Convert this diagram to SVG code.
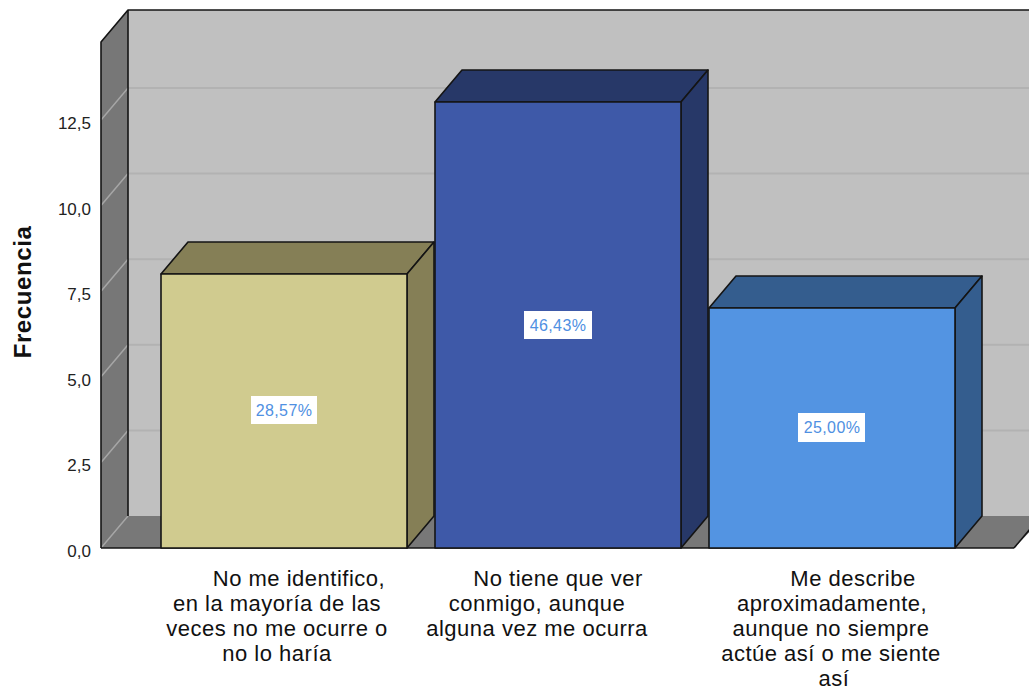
<svg xmlns="http://www.w3.org/2000/svg" width="1029" height="689" viewBox="0 0 1029 689">
<style>
.edge{stroke:#141414;stroke-width:1.6;stroke-linejoin:round}
.grid{stroke:#b2b2b2;stroke-width:2;fill:none}
.sgrid{stroke:#a6a6a6;stroke-width:1.5;fill:none}
.tick{font-family:"Liberation Sans",Arial,sans-serif;font-size:17px;fill:#222;text-anchor:end}
.cat{font-family:"Liberation Sans",Arial,sans-serif;font-size:22px;letter-spacing:0.5px;fill:#111;text-anchor:middle}
.pct{font-family:"Liberation Sans",Arial,sans-serif;font-size:16px;letter-spacing:0.4px;fill:#4f90e2;text-anchor:middle}
.box{fill:#ffffff}
</style>
<rect width="1029" height="689" fill="#ffffff"/>
<g id="frame">
  <!-- back wall -->
  <rect x="128" y="10" width="910" height="507" fill="#c0c0c0"/>
  <!-- left wall -->
  <polygon points="101,42 128,10 128,516 101,548" fill="#777777"/>
  <!-- floor -->
  <polygon points="101,548 128,516 1045,516 1014,548" fill="#787878"/>
  <!-- grid on back wall -->
  <g class="grid">
    <line x1="128" y1="430.4" x2="1029" y2="430.4"/>
    <line x1="128" y1="344.8" x2="1029" y2="344.8"/>
    <line x1="128" y1="259.2" x2="1029" y2="259.2"/>
    <line x1="128" y1="173.6" x2="1029" y2="173.6"/>
    <line x1="128" y1="88" x2="1029" y2="88"/>
  </g>
  <!-- grid on side wall -->
  <g class="sgrid">
    <line x1="101" y1="548" x2="128" y2="516"/>
    <line x1="101" y1="462.4" x2="128" y2="430.4"/>
    <line x1="101" y1="376.8" x2="128" y2="344.8"/>
    <line x1="101" y1="291.2" x2="128" y2="259.2"/>
    <line x1="101" y1="205.6" x2="128" y2="173.6"/>
    <line x1="101" y1="120" x2="128" y2="88"/>
  </g>
  <g class="edge" fill="none">
    <polyline points="101,548 101,42 128,10 1029,10"/>
    <line x1="128" y1="10" x2="128" y2="516"/>
    <line x1="101" y1="548" x2="1014" y2="548"/>
    <line x1="1014" y1="548" x2="1041" y2="516"/>
  </g>
</g>
<g id="axis-labels">
  <text class="tick" x="91" y="557">0,0</text>
  <text class="tick" x="91" y="471">2,5</text>
  <text class="tick" x="91" y="386">5,0</text>
  <text class="tick" x="91" y="300">7,5</text>
  <text class="tick" x="91" y="215">10,0</text>
  <text class="tick" x="91" y="129">12,5</text>
  <text x="31" y="292" transform="rotate(-90 31 292)" font-family="Liberation Sans, Arial, sans-serif" font-weight="bold" font-size="24" letter-spacing="0.6" fill="#111" text-anchor="middle">Frecuencia</text>
</g>
<g id="bar1">
  <polygon class="edge" points="161,274 188,242 434,242 407,274" fill="#857f56"/>
  <polygon class="edge" points="407,274 434,242 434,516 407,548" fill="#857f56"/>
  <rect class="edge" x="161" y="274" width="246" height="274" fill="#d0cb8f"/>
  <rect class="box" x="251" y="396" width="66" height="28"/>
  <text class="pct" x="284" y="416">28,57%</text>
</g>
<g id="bar2">
  <polygon class="edge" points="435,102 462,70 708,70 681,102" fill="#273868"/>
  <polygon class="edge" points="681,102 708,70 708,516 681,548" fill="#273868"/>
  <rect class="edge" x="435" y="102" width="246" height="446" fill="#3e59a8"/>
  <rect class="box" x="524" y="311" width="68" height="28"/>
  <text class="pct" x="558" y="331">46,43%</text>
</g>
<g id="bar3">
  <polygon class="edge" points="709,308 736,276 982,276 955,308" fill="#345d8e"/>
  <polygon class="edge" points="955,308 982,276 982,516 955,548" fill="#345d8e"/>
  <rect class="edge" x="709" y="308" width="246" height="240" fill="#5394e2"/>
  <rect class="box" x="798" y="413" width="67" height="29"/>
  <text class="pct" x="832" y="433">25,00%</text>
</g>
<g id="connectors"></g>
<g id="category-labels">
  <text class="cat"><tspan x="299" y="586">No me identifico,</tspan><tspan x="277" y="611">en la mayoría de las</tspan><tspan x="277" y="636">veces no me ocurre o</tspan><tspan x="277" y="661">no lo haría</tspan></text>
  <text class="cat"><tspan x="558" y="586">No tiene que ver</tspan><tspan x="537" y="611">conmigo, aunque</tspan><tspan x="537" y="636">alguna vez me ocurra</tspan></text>
  <text class="cat"><tspan x="853" y="586">Me describe</tspan><tspan x="832" y="611">aproximadamente,</tspan><tspan x="831" y="636">aunque no siempre</tspan><tspan x="831" y="661">actúe así o me siente</tspan><tspan x="834" y="686">así</tspan></text>
</g>
</svg>
